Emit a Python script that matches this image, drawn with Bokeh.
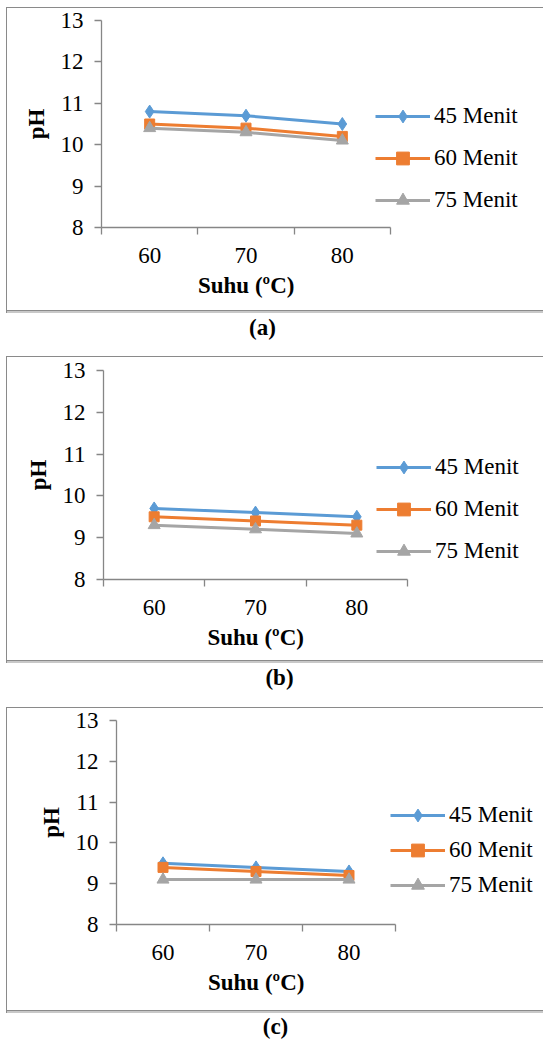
from bokeh.plotting import figure
from bokeh.models import Range1d, FixedTicker, Legend, LegendItem, Div, Title
from bokeh.layouts import column
from bokeh.embed import file_html
from bokeh.resources import INLINE

# ---------------- data ----------------
suhu = ["60", "70", "80"]
series_names = ["45 Menit", "60 Menit", "75 Menit"]
y_ticks = [8, 9, 10, 11, 12, 13]
x_title = "Suhu (ºC)"
y_title = "pH"
captions = ["(a)", "(b)", "(c)"]

ph_a_45 = [10.8, 10.7, 10.5]
ph_a_60 = [10.5, 10.4, 10.2]
ph_a_75 = [10.4, 10.3, 10.1]

ph_b_45 = [9.7, 9.6, 9.5]
ph_b_60 = [9.5, 9.4, 9.3]
ph_b_75 = [9.3, 9.2, 9.1]

ph_c_45 = [9.5, 9.4, 9.3]
ph_c_60 = [9.4, 9.3, 9.2]
ph_c_75 = [9.1, 9.1, 9.1]

# ---------------- styles ----------------
FONT = "Liberation Serif"
FS = "23px"
COLORS = ["#5B9BD5", "#ED7D31", "#A5A5A5"]
MARKERS = [("diamond", 13), ("square", 10), ("triangle", 12)]
AXIS_COLOR = "#868686"
W = 543
TITLE_W = 96  # approximate rendered width of the bold x title

panels = [
    dict(data=[ph_a_45, ph_a_60, ph_a_75], cap=captions[0], H=306, left=101, right_edge=390,
         top=13, bottom=220, leg=(274, 11), leg_sp=10, cap_dx=-9, cap_h=43, cap_lh=30),
    dict(data=[ph_b_45, ph_b_60, ph_b_75], cap=captions[1], H=307, left=103, right_edge=407,
         top=14, bottom=223, leg=(273, 12), leg_sp=10, cap_dx=8, cap_h=44, cap_lh=30),
    dict(data=[ph_c_45, ph_c_60, ph_c_75], cap=captions[2], H=306, left=116, right_edge=395,
         top=13, bottom=217, leg=(274, 23), leg_sp=3, cap_dx=4, cap_h=27, cap_lh=27),
]

# chart box: left line at x=6, top line, bottom line with a light shadow under it
BOX_STYLE = {
    "box-shadow": "inset 6px 0 0 #ffffff, inset 7px 0 0 #8a8a8a, "
                  "inset 0 1px 0 #8a8a8a, inset 0 -2px 0 #c8c8c8, inset 0 -3px 0 #8a8a8a"
}


def make_panel(cfg):
    H = cfg["H"]
    xs = [i + 1 for i in range(len(suhu))]
    x0, x1 = xs[0] - 0.5, xs[-1] + 0.5
    # the frame reaches the right canvas edge so the legend is not clipped;
    # the x axis is bounded to the category span
    data_px = cfg["right_edge"] - cfg["left"]
    frame_px = W - cfg["left"]
    x_end = x0 + (x1 - x0) * frame_px / data_px

    p = figure(width=W, height=H, x_range=Range1d(x0, x_end),
               y_range=Range1d(y_ticks[0], y_ticks[-1]),
               output_backend="svg", toolbar_location=None,
               min_border_left=cfg["left"], min_border_right=0,
               min_border_top=cfg["top"], min_border_bottom=H - cfg["bottom"])
    p.frame_align = False
    p.outline_line_color = None
    p.background_fill_alpha = 0
    p.border_fill_alpha = 0
    p.xgrid.visible = False
    p.ygrid.visible = False
    p.styles = BOX_STYLE

    items = []
    for name, vals, col, (mk, sz) in zip(series_names, cfg["data"], COLORS, MARKERS):
        lr = p.line(xs, vals, line_color=col, line_width=3)
        sr = p.scatter(xs, vals, marker=mk, size=sz, fill_color=col, line_color=col)
        items.append(LegendItem(label=name, renderers=[lr, sr]))

    legend = Legend(items=items, location=cfg["leg"], orientation="vertical",
                    padding=0, margin=0, border_line_color=None, background_fill_alpha=0,
                    glyph_width=55, glyph_height=32, label_height=32, label_standoff=4,
                    spacing=cfg["leg_sp"], label_text_font=FONT, label_text_font_size=FS,
                    label_text_color="black")
    p.add_layout(legend)

    for ax in (p.xaxis[0], p.yaxis[0]):
        ax.axis_line_color = AXIS_COLOR
        ax.axis_line_width = 1.3
        ax.major_label_text_font = FONT
        ax.major_label_text_font_size = FS
        ax.major_label_text_color = "black"
        ax.axis_label_text_font = FONT
        ax.axis_label_text_font_size = FS
        ax.axis_label_text_font_style = "bold"
        ax.axis_label_text_color = "black"

    yax = p.yaxis[0]
    yax.ticker = FixedTicker(ticks=y_ticks)
    yax.major_tick_out = 7
    yax.major_tick_in = 0
    yax.major_tick_line_color = AXIS_COLOR
    yax.major_tick_line_width = 1.3
    yax.minor_tick_line_color = None
    yax.major_label_standoff = 11
    yax.axis_label = y_title
    yax.axis_label_standoff = 9

    xax = p.xaxis[0]
    bounds = [x - 0.5 for x in xs] + [xs[-1] + 0.5]
    xax.bounds = (x0, x1)
    xax.ticker = FixedTicker(ticks=xs, minor_ticks=bounds)
    xax.major_label_overrides = {x: s for x, s in zip(xs, suhu)}
    xax.major_tick_out = 0
    xax.major_tick_in = 0
    xax.minor_tick_out = 7
    xax.minor_tick_in = 0
    xax.minor_tick_line_color = AXIS_COLOR
    xax.minor_tick_line_width = 1.3
    xax.major_label_standoff = 13

    # x title centred under the category span (frame is wider than the axis)
    xt = Title(text=x_title, align="left", offset=data_px / 2 - TITLE_W / 2,
               text_font=FONT, text_font_size=FS, text_font_style="bold",
               text_color="black", standoff=11)
    p.add_layout(xt, "below")

    cap_html = '<span style="position:relative; left:%dpx">%s</span>' % (cfg["cap_dx"], cfg["cap"])
    cap = Div(text=cap_html, width=W, height=cfg["cap_h"], margin=0,
              styles={"font-family": FONT, "font-size": FS, "font-weight": "bold",
                      "text-align": "center", "line-height": "%dpx" % cfg["cap_lh"],
                      "color": "black"})
    return [p, cap]


children = [Div(text="", width=W, height=7, margin=0)]
for c in panels:
    children.extend(make_panel(c))
layout = column(*children, spacing=0)

open("out.html", "w").write(file_html(layout, INLINE))
